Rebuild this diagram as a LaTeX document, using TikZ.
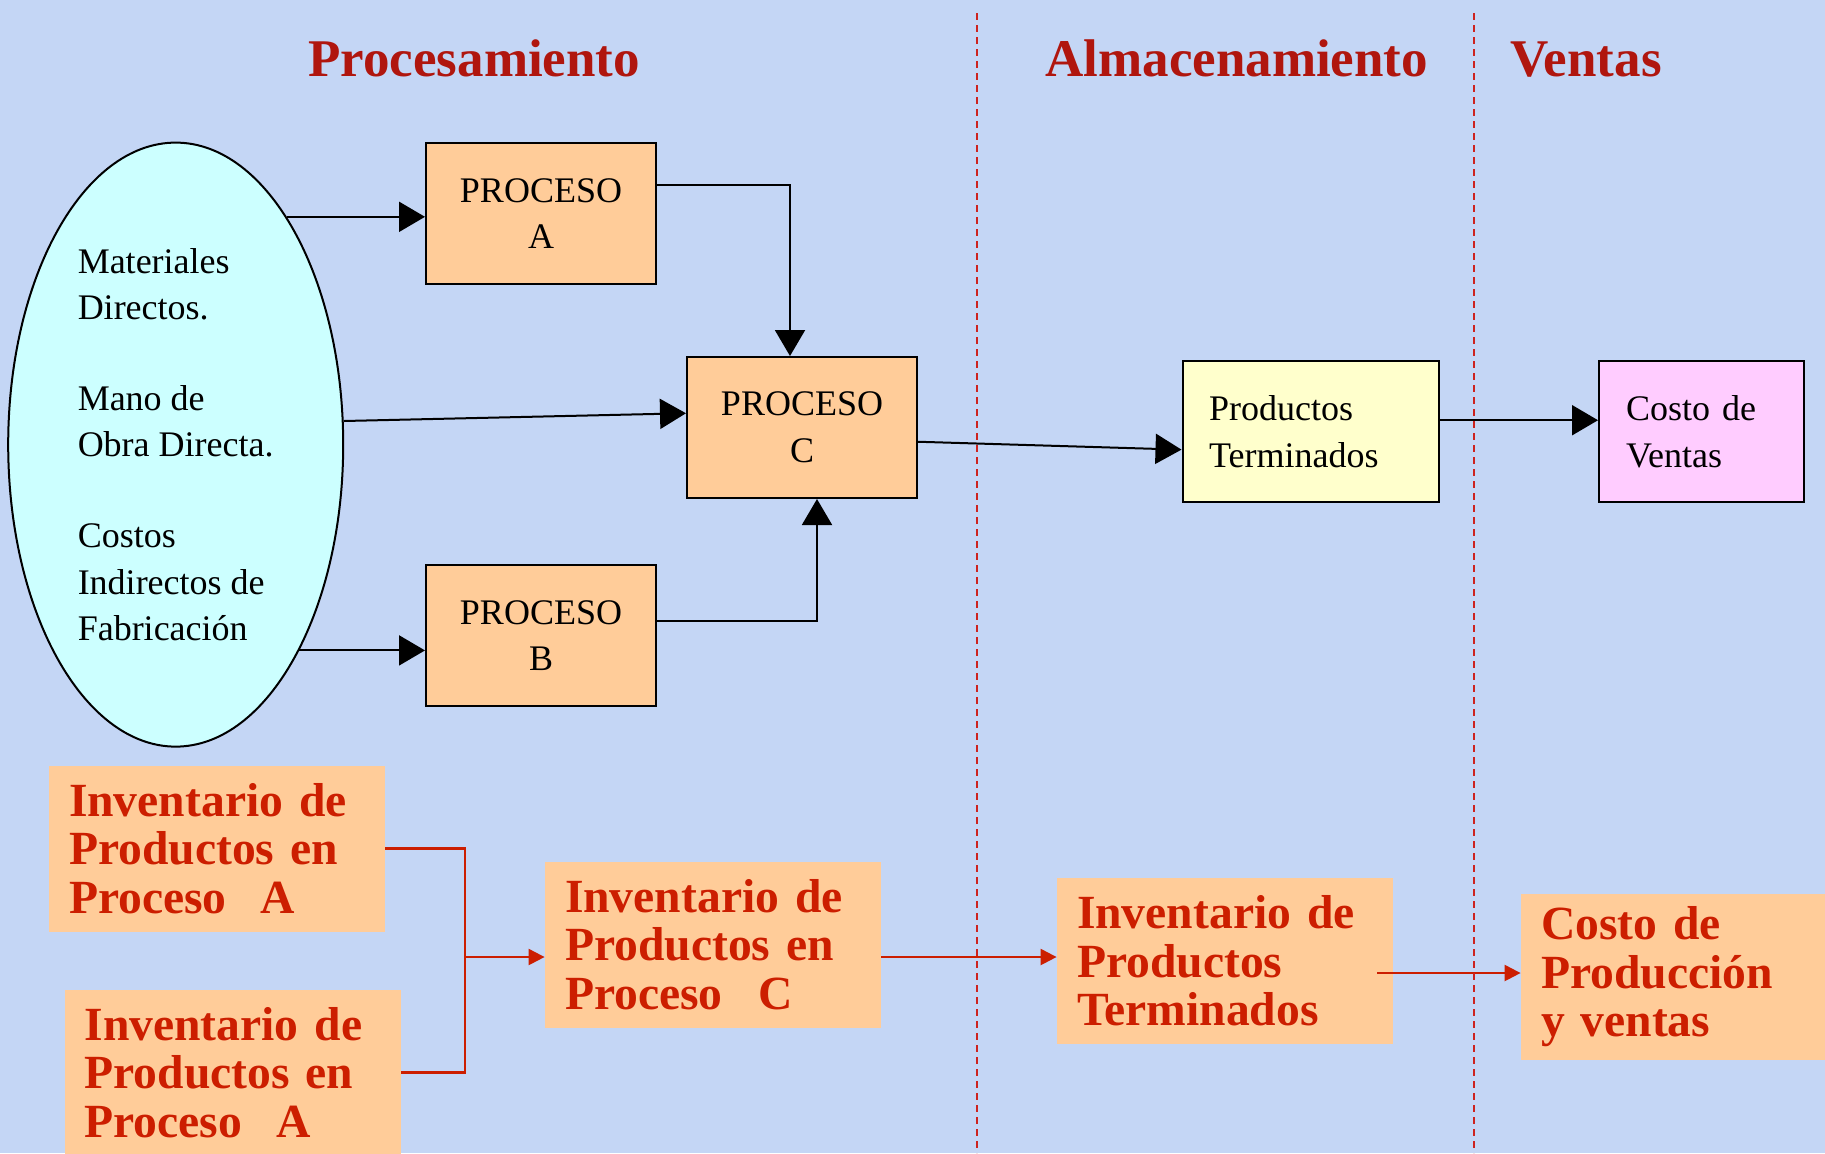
\documentclass[tikz,border=0pt]{standalone}
\usepackage{fontspec}
\setmainfont{Liberation Serif}
\usetikzlibrary{shapes.geometric,arrows.meta}
\definecolor{fondo}{RGB}{196,214,245}
\definecolor{durazno}{RGB}{255,204,153}
\definecolor{celeste}{RGB}{204,255,255}
\definecolor{crema}{RGB}{255,255,204}
\definecolor{rosa}{RGB}{255,204,255}
\definecolor{rojot}{RGB}{176,22,14}
\definecolor{rojo}{RGB}{204,30,0}
\definecolor{rojod}{RGB}{205,35,30}
\begin{document}
\begin{tikzpicture}[x=0.5pt,y=-0.5pt,
    caja/.style={draw,line width=1pt,fill=durazno,minimum width=115pt,minimum height=70.5pt,
      inner sep=0pt,align=center,font=\fontsize{18}{23.3}\selectfont},
    inv/.style={fill=durazno,inner xsep=10pt,inner ysep=0pt,text width=148pt,minimum height=83pt,
      align=left,text=rojo,font=\fontsize{23.8}{24.3}\selectfont\bfseries},
    titulo/.style={anchor=base west,inner sep=0pt,text=rojot,font=\fontsize{26.5}{30}\selectfont\bfseries},
    flecha/.style={line width=1pt,-{Triangle[length=13pt,width=15pt]}},
    flechaR/.style={draw=rojo,line width=1.1pt,-{Triangle[length=8pt,width=8pt]}},
    lineaR/.style={draw=rojo,line width=1.1pt},
    division/.style={draw=rojod,line width=1pt,dash pattern=on 3.5pt off 2.5pt}]
  \useasboundingbox (0,0) rectangle (1825,1153);
  \clip (0,0) rectangle (1825,1153);
  \fill[fondo] (0,0) rectangle (1825,1153);

  \foreach \nombre / \txt / \x in {tProc/Procesamiento/308, tAlm/Almacenamiento/1045, tVen/Ventas/1510}{
    \node[titulo] (\nombre) at (\x,76) {\txt};
  }

  % flujo de costos
  \node[ellipse,draw,line width=1pt,fill=celeste,minimum width=167.5pt,minimum height=302pt,
    inner sep=0pt,align=left,font=\fontsize{18}{23.3}\selectfont] (mat) at (175.7,444.6)
    {Materiales\\Directos.\\[22pt]Mano de\\Obra Directa.\\[22pt]Costos\\Indirectos de\\Fabricación};
  \node[caja] (pA) at (541,213.5) {PROCESO\\A};
  \node[caja] (pC) at (802,427.5) {PROCESO\\C};
  \node[caja] (pB) at (541,635.5) {PROCESO\\B};
  \node[caja,fill=crema,minimum width=128pt,inner xsep=13.25pt,text width=101.5pt,align=left] (pT)
    at (1310.5,431.5) {Productos\\Terminados};
  \node[caja,fill=rosa,minimum width=102.5pt,inner xsep=13.5pt,text width=75.5pt,align=left] (cV)
    at (1701.5,431.5) {Costo de\\Ventas};

  \draw[flecha] (mat.64.6) -- (mat.64.6 -| pA.west);
  \draw[flecha] (mat.8.7) -- (pC.173.8);
  \draw[flecha] (mat.-59.8) -- (mat.-59.8 -| pB.west);
  \draw[flecha] (pA.14.4) -| ([xshift=-6pt]pC.north);
  \draw[flecha] (pB.7.7) -| ([xshift=7.5pt]pC.south);
  \draw[flecha] (pC.-7.9) -- (pT.-172.7);
  \draw[flecha] (pT.5.6) -- (pT.5.6 -| cV.west);

  % inventarios
  \node[inv] (invA) at (217,848.5) {Inventario de\\Productos en\\Proceso\hspace{17pt}A};
  \node[inv] (invB) at (232.5,1072.5) {Inventario de\\Productos en\\Proceso\hspace{17pt}A};
  \node[inv] (invC) at (713,944.5) {Inventario de\\Productos en\\Proceso\hspace{18pt}C};
  \node[inv] (invT) at (1225,961) {Inventario de\\Productos\\Terminados};
  \node[inv,text width=145pt] (cPV) at (1686,977) {Costo de\\Producción\\y ventas};

  \coordinate (jn) at (465,957);
  \draw[lineaR] (invA.east) -| (jn) |- (invB.east);
  \draw[flechaR] (jn) -- (jn -| invC.west);
  \draw[flechaR] (invC.east |- jn) -- (invT.west |- jn);
  \draw[flechaR] ([xshift=-8pt,yshift=-6pt]invT.east) -- ([yshift=-6pt]invT.east -| cPV.west);

  \foreach \x in {976.5,1473.5}{
    \draw[division] (\x,13) -- (\x,1153);
  }
\end{tikzpicture}
\end{document}
